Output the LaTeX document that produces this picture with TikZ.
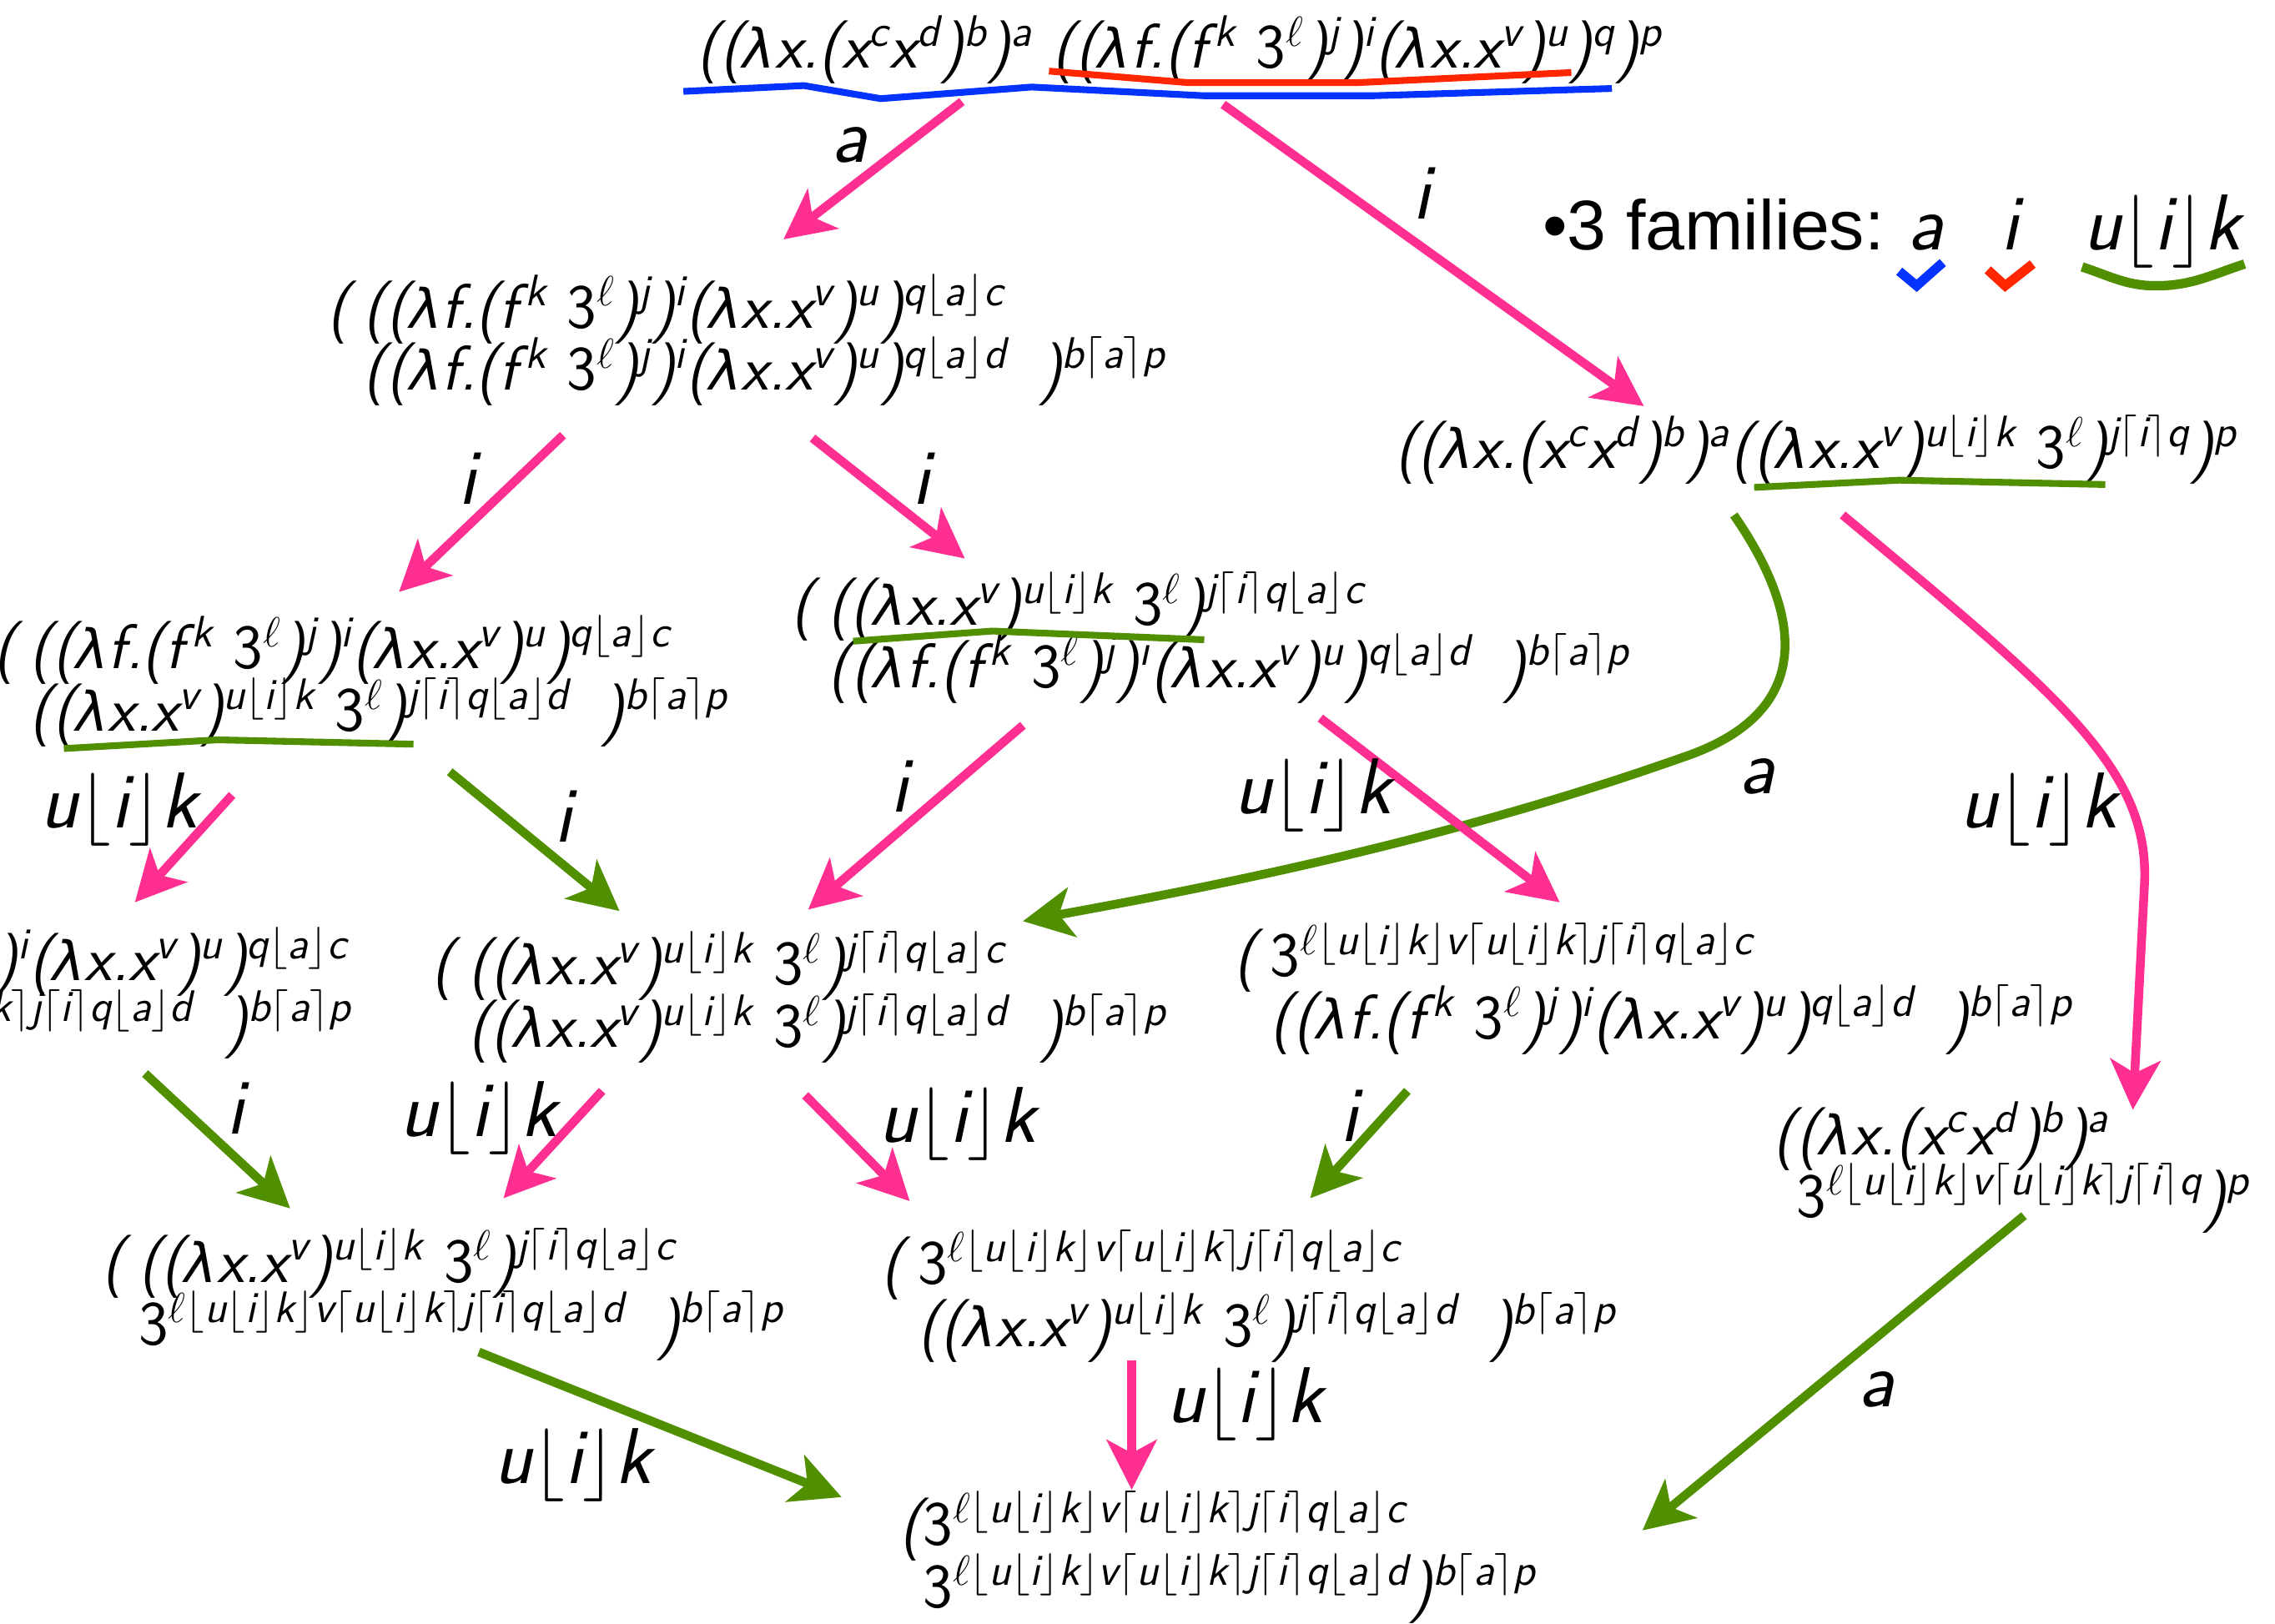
\documentclass[tikz,border=0pt]{standalone}
\usepackage{fontspec}
\usetikzlibrary{arrows.meta}
\newfontfamily\legendfont{Liberation Sans}
\newfontfamily\lamfont{DejaVu Sans}[Scale=0.86]

\definecolor{famPink}{HTML}{FF2F92}
\definecolor{famGreen}{HTML}{4F8F00}
\definecolor{famBlue}{HTML}{0433FF}
\definecolor{famRed}{HTML}{FF2600}

% labelled lambda-term notation
\newcommand\Sp[1]{\textsuperscript{#1}}
\newcommand\Fl[1]{$\lfloor$#1$\rfloor$}
\newcommand\Cl[1]{$\lceil$#1$\rceil$}
\newcommand\Ell{$\ell$}
\newcommand\Lam{{\lamfont\itshape λ}}
\newcommand\Three{{\upshape 3}}
\newcommand\termD{(\Lam x.(x\Sp{c}x\Sp{d})\Sp{b})\Sp{a}}
\newcommand\termF{((\Lam f.(f\kern0.12em\Sp{k} \Three\Sp{\Ell})\Sp{j})\Sp{i}(\Lam x.x\Sp{v})\Sp{u})}
\newcommand\termG{((\Lam x.x\Sp{v})\Sp{u\Fl{i}k} \Three\Sp{\Ell})}
\newcommand\termH[1]{\Three\Sp{\Ell\Fl{u\Fl{i}k}v\Cl{u\Fl{i}k}j\Cl{i}#1}}
\newcommand\closeB{\hspace{0.5em})\Sp{b\Cl{a}p}}
\newlength\indw
\setlength\indw{0.85em}
% two-line term: first line opens with "(", second line is indented
\newcommand\twoline[2]{\vtop{\baselineskip=21.3pt\lineskiplimit=-100pt
  \hbox{\makebox[\indw][l]{\kern-0.18em(}#1}\hbox{\hspace*{\indw}#2}}}

\tikzset{
  term/.style={anchor=base west, inner sep=0pt, font=\sffamily\itshape\fontsize{21.5}{21.3}\selectfont},
  lbl/.style={inner sep=0pt, font=\sffamily\itshape\fontsize{27}{30}\selectfont},
  arr/.style={line width=3pt, -{Stealth[length=17pt,width=17pt,inset=4.5pt]}},
  pinkarr/.style={arr, draw=famPink},
  greenarr/.style={arr, draw=famGreen},
  uline/.style={line width=2.3pt, line join=miter},
  tick/.style={line width=3.2pt, line join=miter}
}

\begin{document}
\begin{tikzpicture}[x=0.17392mm, y=-0.17392mm]
\fill[white] (0,0) rectangle (1568,1119);
\useasboundingbox (0,0) rectangle (1568,1119);

% ---- terms ----
\node[term] (n0) at (480,47) {(\termD\ \termF\Sp{q})\Sp{p}};
\node[term] (n1) at (233,226) {\twoline{\termF\Sp{q\Fl{a}c}}{\termF\Sp{q\Fl{a}d}\closeB}};
\node[term] (n2) at (961,323) {(\termD\termG\Sp{j\Cl{i}q})\Sp{p}};
\node[term] (n3) at (3,461) {\twoline{\termF\Sp{q\Fl{a}c}}{\termG\Sp{j\Cl{i}q\Fl{a}d}\closeB}};
\node[term] (n4) at (553,431) {\twoline{\termG\Sp{j\Cl{i}q\Fl{a}c}}{\termF\Sp{q\Fl{a}d}\closeB}};
\node[term, anchor=base east] (n5) at (243,676) {\twoline{\termF\Sp{q\Fl{a}c}}{\termH{q\Fl{a}d}\closeB}};
\node[term] (n6) at (305,679) {\twoline{\termG\Sp{j\Cl{i}q\Fl{a}c}}{\termG\Sp{j\Cl{i}q\Fl{a}d}\closeB}};
\node[term] (n7) at (858,673) {\twoline{\termH{q\Fl{a}c}}{\termF\Sp{q\Fl{a}d}\closeB}};
\node[term] (n8) at (1222,796) {\vtop{\baselineskip=21.3pt\lineskiplimit=-100pt
  \hbox{(\termD}\hbox{\phantom{(}\termH{q})\Sp{p}}}};
\node[term] (n9) at (78,884) {\twoline{\termG\Sp{j\Cl{i}q\Fl{a}c}}{\termH{q\Fl{a}d}\closeB}};
\node[term] (n10) at (615,885) {\twoline{\termH{q\Fl{a}c}}{\termG\Sp{j\Cl{i}q\Fl{a}d}\closeB}};
\node[term] (n11) at (620,1065) {\vtop{\baselineskip=21.3pt\lineskiplimit=-100pt
  \hbox{(\termH{q\Fl{a}c}}\hbox{\phantom{(}\termH{q\Fl{a}d})\Sp{b\Cl{a}p}}}};

% ---- redex underlines ----
\draw[uline, famBlue] (471,63) -- (554,59) -- (607,68) -- (711,60) -- (830,66) -- (946,66) -- (1111,61);
\draw[uline, famRed] (723,49) -- (819,57) -- (935,57) -- (1083,50);
\draw[uline, famGreen] (1209,336) -- (1309,331) -- (1451,334);
\draw[uline, famGreen] (44,516) -- (150,510) -- (285,513);
\draw[uline, famGreen] (588,442) -- (684,435) -- (830,441);

% ---- legend ----
\node[anchor=base west, inner sep=0pt, font=\legendfont\fontsize{24}{28}\selectfont] (legend) at (1063,172) {•3 families:};
\node[lbl, anchor=base] (fa) at (1327,172) {a};
\node[lbl, anchor=base] (fi) at (1385,172) {i};
\node[lbl, anchor=base] (fu) at (1490,172) {u\Fl{i}k};
\draw[tick, famBlue] (1309,187) -- (1321,197) -- (1339,181);
\draw[tick, famRed] (1370,186) -- (1382,197) -- (1401,182);
\draw[tick, famGreen] (1435,184) to[out=-18,in=180] (1486,197) to[out=0,in=198] (1547,182);

% ---- arrow end points ----
\coordinate (a1s) at (663,70);   \coordinate (a1e) at (540,165);
\coordinate (a2s) at (843,72);   \coordinate (a2e) at (1133,280);
\coordinate (a3s) at (388,300);  \coordinate (a3e) at (275,408);
\coordinate (a4s) at (560,302);  \coordinate (a4e) at (665,385);
\coordinate (a5s) at (1270,355); \coordinate (a5e) at (1470,765);
\coordinate (a6s) at (1195,355); \coordinate (a6e) at (705,635);
\coordinate (a7s) at (160,548);  \coordinate (a7e) at (93,622);
\coordinate (a8s) at (310,532);  \coordinate (a8e) at (427,628);
\coordinate (a9s) at (705,500);  \coordinate (a9e) at (557,627);
\coordinate (a10s) at (910,495); \coordinate (a10e) at (1075,622);
\coordinate (a11s) at (100,740); \coordinate (a11e) at (200,833);
\coordinate (a12s) at (415,752); \coordinate (a12e) at (347,826);
\coordinate (a13s) at (555,755); \coordinate (a13e) at (627,828);
\coordinate (a14s) at (970,752); \coordinate (a14e) at (903,826);
\coordinate (a15s) at (780,938); \coordinate (a15e) at (780,1027);
\coordinate (a16s) at (330,932); \coordinate (a16e) at (580,1032);
\coordinate (a17s) at (1395,838);\coordinate (a17e) at (1132,1055);

% ---- reduction steps ----
\draw[pinkarr] (a1s) -- (a1e);
\draw[pinkarr] (a2s) -- (a2e);
\draw[pinkarr] (a3s) -- (a3e);
\draw[pinkarr] (a4s) -- (a4e);
\draw[pinkarr] (a5s) .. controls (1420,480) and (1482,530) .. (1478,610) -- (a5e);
\draw[greenarr] (a6s) .. controls (1240,420) and (1255,490) .. (1160,522) .. controls (1010,575) and (860,607) .. (a6e);
\draw[pinkarr] (a7s) -- (a7e);
\draw[greenarr] (a8s) -- (a8e);
\draw[pinkarr] (a9s) -- (a9e);
\draw[pinkarr] (a10s) -- (a10e);
\draw[greenarr] (a11s) -- (a11e);
\draw[pinkarr] (a12s) -- (a12e);
\draw[pinkarr] (a13s) -- (a13e);
\draw[greenarr] (a14s) -- (a14e);
\draw[pinkarr] (a15s) -- (a15e);
\draw[greenarr] (a16s) -- (a16e);
\draw[greenarr] (a17s) -- (a17e);

% ---- step labels ----
\node[lbl] (l1) at (585,100) {a};
\node[lbl] (l2) at (980,133) {i};
\node[lbl] (l3) at (322,330) {i};
\node[lbl] (l4) at (635,330) {i};
\node[lbl] (l5) at (1405,558) {u\Fl{i}k};
\node[lbl] (l6) at (1211,535) {a};
\node[lbl] (l7) at (82,558) {u\Fl{i}k};
\node[lbl] (l8) at (388,563) {i};
\node[lbl] (l9) at (620,542) {i};
\node[lbl] (l10) at (905,548) {u\Fl{i}k};
\node[lbl] (l11) at (162,764) {i};
\node[lbl] (l12) at (330,771) {u\Fl{i}k};
\node[lbl] (l13) at (660,775) {u\Fl{i}k};
\node[lbl] (l14) at (930,769) {i};
\node[lbl] (l15) at (858,968) {u\Fl{i}k};
\node[lbl] (l16) at (395,1010) {u\Fl{i}k};
\node[lbl] (l17) at (1293,958) {a};
\end{tikzpicture}
\end{document}
